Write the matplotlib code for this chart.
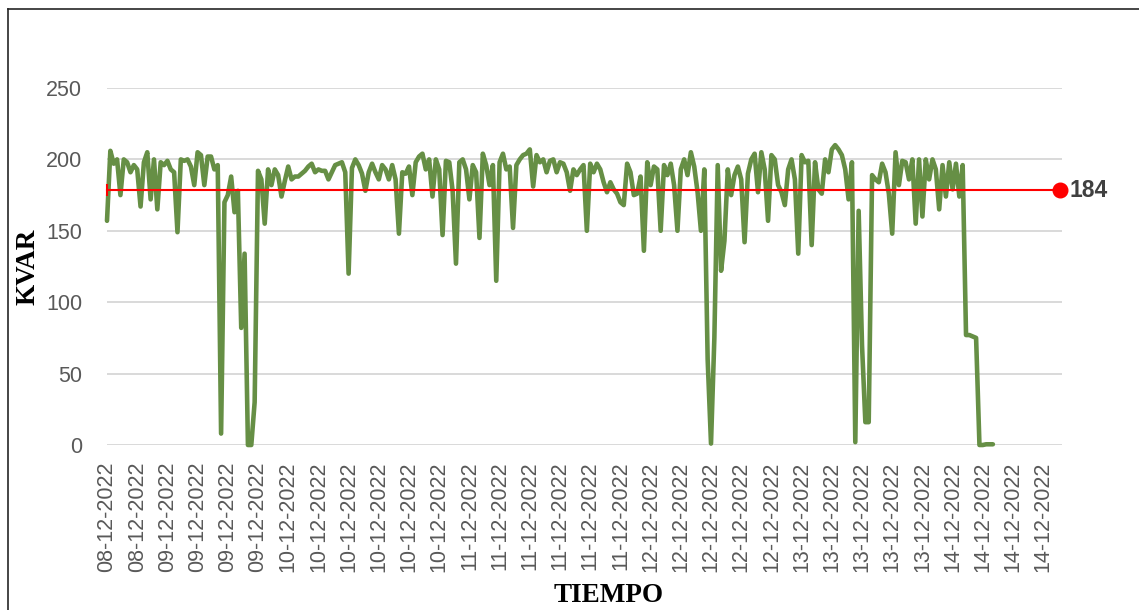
import matplotlib
matplotlib.use('Agg')
import numpy as np
import matplotlib.pyplot as plt
from matplotlib.lines import Line2D

plt.rcParams['font.family'] = ['Liberation Sans', 'DejaVu Sans']

# --- DATA ---
kvar = [
    157, 206, 197, 200, 175, 200, 198, 191, 196, 193,
    167, 198, 205, 172, 200, 165, 198, 196, 199, 193,
    191, 149, 200, 199, 200, 195, 182, 205, 203, 182,
    202, 202, 193, 196, 8, 170, 175, 188, 163, 178,
    82, 134, 0, 0, 30, 192, 186, 155, 193, 182,
    193, 189, 174, 185, 195, 186, 188, 188, 190, 192,
    195, 197, 191, 193, 192, 192, 186, 191, 196, 197,
    198, 191, 120, 194, 200, 196, 190, 178, 191, 197,
    191, 186, 196, 193, 186, 196, 186, 148, 191, 190,
    195, 175, 198, 202, 204, 193, 200, 174, 200, 193,
    147, 199, 198, 178, 127, 198, 200, 193, 172, 196,
    191, 145, 204, 196, 182, 196, 115, 198, 204, 193,
    195, 152, 196, 200, 203, 204, 207, 181, 203, 198,
    200, 191, 199, 200, 191, 198, 197, 191, 178, 193,
    189, 193, 196, 150, 197, 191, 197, 193, 184, 177,
    184, 179, 176, 170, 168, 197, 191, 175, 176, 188,
    136, 198, 182, 195, 193, 150, 196, 189, 197, 182,
    150, 193, 200, 189, 205, 195, 177, 150, 193, 60,
    1, 75, 196, 122, 143, 193, 175, 189, 195, 186,
    142, 190, 200, 204, 177, 205, 193, 157, 203, 200,
    182, 177, 168, 193, 200, 186, 134, 203, 198, 199,
    140, 198, 179, 176, 200, 191, 207, 210, 207, 203,
    193, 172, 198, 2, 164, 70, 16, 16, 189, 186,
    184, 197, 191, 176, 148, 205, 182, 199, 198, 186,
    200, 155, 200, 160, 200, 186, 200, 193, 165, 196,
    174, 198, 179, 197, 174, 196, 77, 77, 76, 75,
    0, 0, 0.5, 0.5, 0.5,
]
threshold = 178.3
threshold_label = "184"
n_categories = 285
label_step = 9
tick_labels = (["08-12-2022"] * 2 + ["09-12-2022"] * 4 + ["10-12-2022"] * 6 +
               ["11-12-2022"] * 6 + ["12-12-2022"] * 5 + ["13-12-2022"] * 5 +
               ["14-12-2022"] * 4)

# --- FIGURE ---
W, H = 1139, 610
fig = plt.figure(figsize=(W / 100, H / 100), dpi=100)
fig.patch.set_facecolor('white')

# outer frame (left and top edges visible)
fig.add_artist(Line2D([8 / W, 8 / W], [0, 1 - 9 / H], transform=fig.transFigure,
                      color='#262626', linewidth=1.2))
fig.add_artist(Line2D([8 / W, 1], [1 - 9 / H, 1 - 9 / H], transform=fig.transFigure,
                      color='#262626', linewidth=1.2))

left, right = 107 / W, 1062 / W
bottom, top = (H - 445) / H, (H - 88) / H
ax = fig.add_axes([left, bottom, right - left, top - bottom])
ax.set_xlim(0, n_categories - 0.4)
ax.set_ylim(0, 250)

for s in ax.spines.values():
    s.set_visible(False)
ax.set_yticks([0, 50, 100, 150, 200, 250])
ax.grid(axis='y', color='#D9D9D9', linewidth=1.4)
ax.set_axisbelow(True)

ticks = np.arange(0, label_step * len(tick_labels), label_step)
ax.set_xticks(ticks)
ax.set_xticklabels(tick_labels, rotation=90, va='top', ha='center')
ax.tick_params(axis='x', length=0, pad=12, labelsize=15.5, labelcolor='#595959')
ax.tick_params(axis='y', length=0, pad=18, labelsize=15.5, labelcolor='#595959')

x = np.arange(len(kvar))
ax.plot(x, kvar, color='#668F45', linewidth=3.3, solid_joinstyle='round',
        solid_capstyle='round', clip_on=False, zorder=3)

# reference line
ax.plot([0, n_categories - 1], [threshold, threshold], color='#FF0000',
        linewidth=1.5, zorder=4, clip_on=False)
ax.plot([0], [threshold], marker='|', color='#FF0000', markersize=8,
        markeredgewidth=1.5, clip_on=False, zorder=4)
ax.plot([n_categories - 1], [threshold], marker='o', color='#FF0000',
        markersize=10.5, clip_on=False, zorder=5)
ax.annotate(threshold_label, xy=(n_categories - 1, threshold), xytext=(7, 0),
            textcoords='offset points', ha='left', va='center',
            fontsize=16.5, fontweight='bold', color='#404040', annotation_clip=False)

# axis titles
fig.text(28 / W, 1 - 267 / H, "KVAR", rotation=90, ha='center', va='center',
         fontsize=19.5, fontweight='bold', family='Liberation Serif', color='black')
fig.text(609 / W, 1 - 596 / H, "TIEMPO", ha='center', va='center',
         fontsize=19.5, fontweight='bold', family='Liberation Serif', color='black')

fig.savefig('out.png', dpi=100)
